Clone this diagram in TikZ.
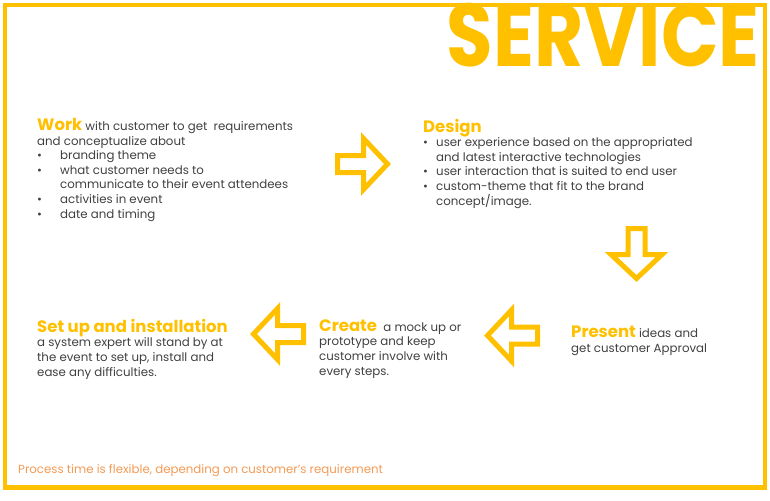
\documentclass[tikz,border=0pt]{standalone}
\usepackage{fontspec}
\setmainfont{Poppins}
\usetikzlibrary{positioning}
\definecolor{Gold}{HTML}{FFC000}
\definecolor{Ink}{HTML}{404040}
\definecolor{Note}{HTML}{F39A55}
\newcommand{\hd}[1]{{\fontsize{16.5}{16.5}\selectfont\bfseries\color{Gold}#1}}
\newcommand{\bul}[1][23pt]{\makebox[#1][l]{\textbullet}}

\begin{document}
\begin{tikzpicture}[x=1pt,y=-1pt,
    txt/.style={anchor=base west,inner sep=0pt,align=left,text=Ink,font=\fontsize{11.8}{14.6}\selectfont},
    arrowline/.style={draw=Gold,line width=5pt,line join=miter},
    flowarrow/.pic={\draw[arrowline] (-26,-8.5) -- (0,-8.5) -- (0,-25.5) -- (24,0) -- (0,25.5) -- (0,8.5) -- (-26,8.5) -- cycle;}]
  \useasboundingbox (0,0) rectangle (770,500);
  \draw[Gold,line width=4.5pt] (5,5) rectangle (765,487.5);
  \node[anchor=base east,inner sep=0pt,text=Gold,font=\fontsize{89}{89}\selectfont\bfseries] (title) at (760,67) {\scalebox{0.85}[1]{SERVICE}};

  % the five steps (placed at the baseline of their last line)
  \node[txt] (work) at (37,218) {\hd{Work} with customer to get\ \ requirements\\
    and conceptualize about\\
    \bul branding theme\\
    \bul what customer needs to\\
    \hspace*{23pt}communicate to their event attendees\\
    \bul activities in event\\
    \bul date and timing};
  \node[txt] (design) at (423,205) {\hd{Design}\\
    \bul[13pt]user experience based on the appropriated\\
    \hspace*{13pt}and latest interactive technologies\\
    \bul[13pt]user interaction\ that is suited to end user\\
    \bul[13pt]custom-theme that fit to the brand\\
    \hspace*{13pt}concept/image.};
  \node[txt] (present) at (571,352) {\hd{Present} ideas and\\get customer Approval};
  \node[txt] (create) at (319,375) {\hd{Create}\ \ a mock up or\\prototype and keep\\customer involve with\\every steps.};
  \node[txt] (setup) at (37,376) {\hd{Set up and installation}\\a system expert will stand by at\\the event to set up, install and\\ease any difficulties.};
  \node[txt,text=Note,font=\fontsize{11.8}{12}\selectfont] (note) at (18,473) {Process time is flexible, depending on customer’s requirement};

  % arrows between the steps
  \pic at (363.5,164) {flowarrow};
  \pic[rotate=-90] at (636.5,254.5) {flowarrow};
  \pic[rotate=180] at (511.5,335.5) {flowarrow};
  \pic[rotate=180] at (277.5,334) {flowarrow};
\end{tikzpicture}
\end{document}
